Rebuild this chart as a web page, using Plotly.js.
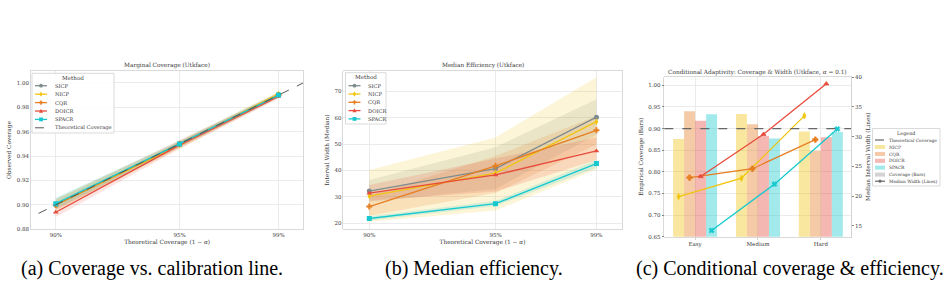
<!DOCTYPE html>
<html><head><meta charset="utf-8">
<script src="https://cdn.plot.ly/plotly-3.0.1.min.js"></script>
<style>html,body{margin:0;padding:0;background:#fff}#chart{width:945px;height:287px}</style>
</head><body><div id="chart"></div>
<script>
// ---------- shared ----------
const methods = ['SICP', 'NICP', 'CQR', 'DOICR', 'SPACR'];
const methodColors = ['#7f8c8d', '#f1c40f', '#e67e22', '#e74c3c', '#17c9cf'];
const methodSymbols = ['circle', 'diamond-tall', 'cross', 'triangle-up', 'square'];
const nominal = [0.90, 0.95, 0.99];
const nominalLabels = ['90%', '95%', '99%'];
const diagonal = [0.88, 1.00];

// ---------- (a) marginal coverage ----------
const covSICP  = [0.900, 0.950, 0.990];
const covNICP  = [0.900, 0.949, 0.991];
const covCQR   = [0.900, 0.950, 0.990];
const covDOICR = [0.894, 0.949, 0.989];
const covSPACR = [0.901, 0.950, 0.990];
const covLoSICP  = [0.896, 0.947, 0.988];
const covHiSICP  = [0.905, 0.953, 0.992];
const covLoNICP  = [0.895, 0.946, 0.988];
const covHiNICP  = [0.905, 0.952, 0.993];
const covLoCQR   = [0.896, 0.947, 0.988];
const covHiCQR   = [0.904, 0.953, 0.992];
const covLoDOICR = [0.890, 0.946, 0.987];
const covHiDOICR = [0.898, 0.952, 0.991];
const covLoSPACR = [0.897, 0.948, 0.988];
const covHiSPACR = [0.906, 0.952, 0.992];

// ---------- (b) median efficiency ----------
const widSICP  = [32.2, 40.7, 60.2];
const widNICP  = [30.3, 39.0, 58.5];
const widCQR   = [26.3, 41.7, 55.2];
const widDOICR = [31.4, 38.3, 47.4];
const widSPACR = [21.8, 27.4, 42.6];
const widLoSICP  = [28.0, 33.0, 53.5];
const widHiSICP  = [36.4, 48.8, 67.0];
const widLoNICP  = [20.6, 24.8, 40.5];
const widHiNICP  = [40.2, 52.5, 75.3];
const widLoCQR   = [22.8, 31.5, 49.8];
const widHiCQR   = [30.5, 45.5, 60.6];
const widLoDOICR = [28.5, 32.0, 44.0];
const widHiDOICR = [34.5, 44.5, 52.5];
const widLoSPACR = [21.0, 26.5, 41.0];
const widHiSPACR = [22.6, 28.4, 44.0];

// ---------- (c) conditional adaptivity ----------
const groups = ['Easy', 'Medium', 'Hard'];
const condMethods = ['NICP', 'CQR', 'DOICR', 'SPACR'];
const condColors = ['#f1c40f', '#e67e22', '#e74c3c', '#17c9cf'];
const condSymbols = ['diamond-tall', 'cross', 'triangle-up', 'x'];
const condCovNICP  = [0.876, 0.934, 0.893];
const condCovCQR   = [0.940, 0.910, 0.849];
const condCovDOICR = [0.918, 0.883, 0.880];
const condCovSPACR = [0.933, 0.877, 0.892];
const condWidNICP  = [19.9, 23.0, 33.5];
const condWidCQR   = [23.1, 24.6, 29.5];
const condWidDOICR = [23.3, 30.4, 38.9];
const condWidSPACR = [14.2, 22.0, 31.3];
const targetCoverage = 0.90;

// ---------- helpers ----------
const W = 945, H = 287;
const px = x => x / W;
const py = y => 1 - y / H;
function rgba(hex, a) {
  const n = parseInt(hex.slice(1), 16);
  return `rgba(${(n >> 16) & 255},${(n >> 8) & 255},${n & 255},${a})`;
}
const FONT = 'DejaVu Serif';
const TXT = '#3a3a3a';
const GRID = '#e6e6e6';
const SPINE = '#cfcfcf';

const traces = [];
const covMeans = [covSICP, covNICP, covCQR, covDOICR, covSPACR];
const covLos = [covLoSICP, covLoNICP, covLoCQR, covLoDOICR, covLoSPACR];
const covHis = [covHiSICP, covHiNICP, covHiCQR, covHiDOICR, covHiSPACR];
const widMeans = [widSICP, widNICP, widCQR, widDOICR, widSPACR];
const widLos = [widLoSICP, widLoNICP, widLoCQR, widLoDOICR, widLoSPACR];
const widHis = [widHiSICP, widHiNICP, widHiCQR, widHiDOICR, widHiSPACR];

function bandTrace(lo, hi, color, xa, ya, alpha) {
  return {
    x: nominal.concat(nominal.slice().reverse()),
    y: hi.concat(lo.slice().reverse()),
    xaxis: xa, yaxis: ya, type: 'scatter', mode: 'none',
    fill: 'toself', fillcolor: rgba(color, alpha), hoverinfo: 'skip', showlegend: false
  };
}
methods.forEach((m, i) => traces.push(bandTrace(covLos[i], covHis[i], methodColors[i], 'x', 'y', 0.15)));
methods.forEach((m, i) => traces.push(bandTrace(widLos[i], widHis[i], methodColors[i], 'x2', 'y2', 0.17)));
methods.forEach((m, i) => {
  traces.push({
    x: nominal, y: covMeans[i], xaxis: 'x', yaxis: 'y', type: 'scatter', mode: 'lines+markers', name: m,
    line: {color: methodColors[i], width: 1.3}, marker: {symbol: methodSymbols[i], size: 5, color: methodColors[i]},
    showlegend: false
  });
});
traces.push({x: diagonal, y: diagonal, xaxis: 'x', yaxis: 'y', type: 'scatter', mode: 'lines',
  line: {color: '#555', width: 1, dash: 'dash'}, showlegend: false});
methods.forEach((m, i) => {
  traces.push({
    x: nominal, y: widMeans[i], xaxis: 'x2', yaxis: 'y2', type: 'scatter', mode: 'lines+markers', name: m,
    line: {color: methodColors[i], width: 1.3}, marker: {symbol: methodSymbols[i], size: 5, color: methodColors[i]},
    showlegend: false
  });
});

// (c) bars + lines
const condCovs = [condCovNICP, condCovCQR, condCovDOICR, condCovSPACR];
const condWids = [condWidNICP, condWidCQR, condWidDOICR, condWidSPACR];
const barW = 0.175;
const groupIdx = groups.map((g, i) => i);
condMethods.forEach((m, k) => {
  traces.push({
    x: groupIdx, y: condCovs[k], xaxis: 'x3', yaxis: 'y3', type: 'bar', name: m,
    offset: -2 * barW + k * barW, width: barW,
    marker: {color: rgba(condColors[k], 0.4), line: {width: 0}}, showlegend: false
  });
});
condMethods.forEach((m, k) => {
  traces.push({
    x: groupIdx.map(i => i - 2 * barW + k * barW + barW / 2), y: condWids[k],
    xaxis: 'x3', yaxis: 'y4', type: 'scatter', mode: 'lines+markers', name: m,
    line: {color: condColors[k], width: 1.3},
    marker: {symbol: condSymbols[k], size: 4.5, color: condColors[k], line: {color: condColors[k], width: 0.8}},
    showlegend: false
  });
});

// ---------- layout ----------
const tickFont = {family: FONT, size: 5.5, color: TXT};
const titleFont = {family: FONT, size: 5.8, color: TXT};
function axisBase(extra) {
  return Object.assign({
    showgrid: true, gridcolor: GRID, gridwidth: 0.8, zeroline: false,
    showline: true, linecolor: SPINE, linewidth: 0.8, mirror: true,
    tickfont: tickFont, ticks: '', fixedrange: true
  }, extra);
}
const yTopAB = py(70.7), yBotAB = py(229.3);
const layout = {
  width: W, height: H, margin: {l: 0, r: 0, t: 0, b: 0},
  paper_bgcolor: '#fff', plot_bgcolor: '#fff', showlegend: false,
  font: {family: FONT, color: TXT},
  xaxis: axisBase({domain: [px(31), px(303.3)], range: [0.89, 1.0], anchor: 'y',
    tickvals: nominal, ticktext: nominalLabels,
    title: {text: 'Theoretical Coverage (1 − <i>α</i>)', font: titleFont, standoff: 3}}),
  yaxis: axisBase({domain: [yBotAB, yTopAB], range: [0.88, 1.01], anchor: 'x',
    dtick: 0.02, tick0: 0.88, tickformat: '.2f',
    title: {text: 'Observed Coverage', font: titleFont, standoff: 4}}),
  xaxis2: axisBase({domain: [px(343.3), px(621.7)], range: [0.8897, 1.0], anchor: 'y2',
    tickvals: nominal, ticktext: nominalLabels,
    title: {text: 'Theoretical Coverage (1 − <i>α</i>)', font: titleFont, standoff: 3}}),
  yaxis2: axisBase({domain: [yBotAB, yTopAB], range: [17.7, 77.8], anchor: 'x2',
    dtick: 10, tick0: 20,
    title: {text: 'Interval Width (Median)', font: titleFont, standoff: 4}}),
  xaxis3: axisBase({domain: [px(664.3), px(851)], range: [-0.49, 2.48], anchor: 'y3',
    tickvals: groupIdx, ticktext: groups, ticks: 'outside', ticklen: 2, tickcolor: SPINE}),
  yaxis3: axisBase({domain: [py(236.7), py(76.7)], range: [0.65, 1.02], anchor: 'x3',
    dtick: 0.05, tick0: 0.65, tickformat: '.2f', ticks: 'outside', ticklen: 2, tickcolor: '#888',
    title: {text: 'Empirical Coverage (Bars)', font: titleFont, standoff: 4}}),
  yaxis4: axisBase({overlaying: 'y3', side: 'right', anchor: 'x3', range: [13.15, 40.1],
    dtick: 5, tick0: 15, showgrid: false, mirror: false, ticks: 'outside', ticklen: 2, tickcolor: '#888',
    title: {text: 'Median Interval Width (Lines)', font: titleFont, standoff: 4}}),
  shapes: [],
  annotations: []
};

const ann = layout.annotations, shp = layout.shapes;
function text(t, x, y, opts) {
  ann.push(Object.assign({text: t, x: px(x), y: py(y), xref: 'paper', yref: 'paper', showarrow: false,
    font: {family: FONT, size: 5.8, color: TXT}, xanchor: 'center', yanchor: 'middle'}, opts || {}));
}
text('Marginal Coverage (Utkface)', 167, 65);
text('Median Efficiency (Utkface)', 482.5, 65);
text('Conditional Adaptivity: Coverage &amp; Width (Utkface, <i>α</i> = 0.1)', 757.6, 72.5);

// theoretical line in (c)
shp.push({type: 'line', xref: 'x3 domain', yref: 'y3', x0: 0, x1: 1, y0: targetCoverage, y1: targetCoverage,
  line: {color: '#666', width: 1.4, dash: 'dash'}, layer: 'above'});

// legend helpers
function mark(sym, cx, cy, r, color) {
  const P = (x, y) => `${px(x)},${py(y)}`;
  if (sym === 'circle') {
    shp.push({type: 'circle', xref: 'paper', yref: 'paper', x0: px(cx - r), x1: px(cx + r), y0: py(cy + r), y1: py(cy - r),
      fillcolor: color, line: {width: 0}});
  } else if (sym === 'square') {
    shp.push({type: 'rect', xref: 'paper', yref: 'paper', x0: px(cx - r), x1: px(cx + r), y0: py(cy + r), y1: py(cy - r),
      fillcolor: color, line: {width: 0}});
  } else {
    let pts;
    if (sym === 'diamond-tall') pts = [[cx, cy - 1.4 * r], [cx + 0.8 * r, cy], [cx, cy + 1.4 * r], [cx - 0.8 * r, cy]];
    else if (sym === 'triangle-up') pts = [[cx, cy - 1.2 * r], [cx + 1.1 * r, cy + 0.9 * r], [cx - 1.1 * r, cy + 0.9 * r]];
    else { const a = 0.4 * r, b = 1.1 * r;
      pts = [[cx - a, cy - b], [cx + a, cy - b], [cx + a, cy - a], [cx + b, cy - a], [cx + b, cy + a], [cx + a, cy + a],
             [cx + a, cy + b], [cx - a, cy + b], [cx - a, cy + a], [cx - b, cy + a], [cx - b, cy - a], [cx - a, cy - a]]; }
    shp.push({type: 'path', xref: 'paper', yref: 'paper', path: 'M' + pts.map(p => P(p[0], p[1])).join('L') + 'Z',
      fillcolor: color, line: {width: 0}});
  }
}
function box(x0, y0, x1, y1) {
  shp.push({type: 'rect', xref: 'paper', yref: 'paper', x0: px(x0), x1: px(x1), y0: py(y1), y1: py(y0),
    fillcolor: 'rgba(255,255,255,0.85)', line: {color: '#d0d0d0', width: 0.8}, layer: 'above'});
}
function seg(x0, x1, y, color, dash, w) {
  shp.push({type: 'line', xref: 'paper', yref: 'paper', x0: px(x0), x1: px(x1), y0: py(y), y1: py(y),
    line: {color: color, width: w || 1.3, dash: dash || 'solid'}, layer: 'above'});
}
const legFont = {family: FONT, size: 5.2, color: TXT};
function methodLegend(x0, y0, x1, y1, rows, withDiag) {
  box(x0, y0, x1, y1);
  text('Method', (x0 + x1) / 2, y0 + 4.6, {font: {family: FONT, size: 5.6, color: TXT}});
  methods.forEach((m, i) => {
    const y = rows[i];
    seg(x0 + 3, x0 + 15, y, methodColors[i]);
    mark(methodSymbols[i], x0 + 9, y, 1.9, methodColors[i]);
    text(m, x0 + 20.5, y, {xanchor: 'left', font: legFont});
  });
  if (withDiag) {
    const y = rows[5];
    seg(x0 + 3, x0 + 15, y, '#555', 'dash', 1);
    text('Theoretical Coverage', x0 + 20.5, y, {xanchor: 'left', font: legFont});
  }
}
methodLegend(32, 73.3, 114, 133, [85.7, 94.2, 102.6, 111, 119.4, 127.8], true);
methodLegend(345.5, 72.7, 386, 124, [85.7, 94, 102.3, 110.6, 118.9], false);

// legend (c)
const cFont = {family: FONT, size: 4.4, color: TXT};
box(872.5, 128.5, 940, 186);
text('Legend', 906, 133.3, {font: {family: FONT, size: 4.9, color: TXT}});
const cRows = [140, 147, 154, 160.8, 167.6, 174.6, 181.2];
seg(875, 885, cRows[0], '#666', 'dash', 1.2);
text('Theoretical Coverage', 887, cRows[0], {xanchor: 'left', font: cFont});
condMethods.forEach((m, k) => {
  const y = cRows[k + 1];
  shp.push({type: 'rect', xref: 'paper', yref: 'paper', x0: px(875), x1: px(885), y0: py(y + 2), y1: py(y - 2),
    fillcolor: rgba(condColors[k], 0.4), line: {width: 0}, layer: 'above'});
  text(m, 887, y, {xanchor: 'left', font: cFont});
});
shp.push({type: 'rect', xref: 'paper', yref: 'paper', x0: px(875), x1: px(885), y0: py(cRows[5] + 2), y1: py(cRows[5] - 2),
  fillcolor: 'rgba(128,128,128,0.35)', line: {width: 0}, layer: 'above'});
text('Coverage (Bars)', 887, cRows[5], {xanchor: 'left', font: cFont});
seg(875, 885, cRows[6], '#666', 'solid', 1.2);
mark('cross', 880, cRows[6], 1.6, '#666');
text('Median Width (Lines)', 887, cRows[6], {xanchor: 'left', font: cFont});

// captions
const capFont = {family: 'Liberation Serif', size: 20, color: '#000'};
text('(a) Coverage vs. calibration line.', 152, 268, {font: capFont});
text('(b) Median efficiency.', 474, 268, {font: capFont});
text('(c) Conditional coverage &amp; efficiency.', 790, 268, {font: capFont});

Plotly.newPlot('chart', traces, layout, {displayModeBar: false, staticPlot: true});
</script>
</body></html>
